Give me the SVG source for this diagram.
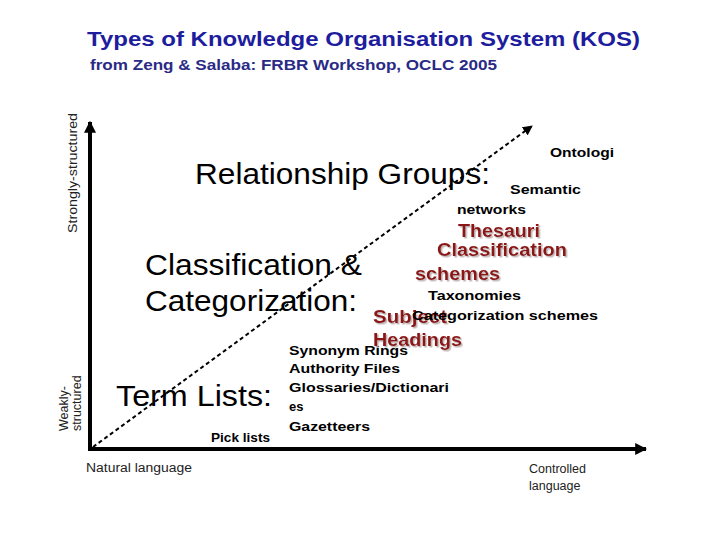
<svg xmlns="http://www.w3.org/2000/svg" width="720" height="540" viewBox="0 0 720 540">
<defs>
<style>
.t{font-family:"Liberation Sans",Arial,sans-serif;}
.title{font-size:21px;font-weight:bold;fill:#1d1d9e;}
.sub{font-size:15px;font-weight:bold;fill:#2a2a86;}
.big{font-size:29px;fill:#000;}
.sm{font-size:13px;font-weight:bold;fill:#000;}
.ax{font-size:12.5px;fill:#222;}
.red{font-size:17.5px;font-weight:bold;fill:#8c1717;filter:url(#sh);}
.axis{stroke:#000;stroke-width:4;fill:none;}
.dash{stroke:#000;stroke-width:2;stroke-dasharray:4 3;fill:none;}
</style>
<marker id="ah" viewBox="0 0 10 10" refX="9" refY="5" markerWidth="3" markerHeight="3" orient="auto"><path d="M0,0 L10,5 L0,10 z" fill="#000"/></marker>
<marker id="ad" viewBox="0 0 10 10" refX="9" refY="5" markerWidth="5" markerHeight="5" orient="auto"><path d="M0,0 L10,5 L0,10 z" fill="#000"/></marker>
<filter id="sh" x="-10%" y="-20%" width="130%" height="150%"><feDropShadow dx="1.5" dy="1.5" stdDeviation="0.6" flood-color="#b0a0a0" flood-opacity="0.8"/></filter>
</defs>
<rect width="720" height="540" fill="#fff"/>
<g id="heading" class="t">
<text class="title" x="87" y="46" textLength="553" lengthAdjust="spacingAndGlyphs">Types of Knowledge Organisation System (KOS)</text>
<text class="sub" x="90" y="70" textLength="407" lengthAdjust="spacingAndGlyphs">from Zeng &amp; Salaba: FRBR Workshop, OCLC 2005</text>
</g>
<g id="connectors">
<path class="axis" d="M90,451 L90,122" marker-end="url(#ah)"/>
<path class="axis" d="M88,449 L646,449" marker-end="url(#ah)"/>
<path class="dash" d="M93,447 L532,126" marker-end="url(#ad)"/>
</g>
<g id="axis-labels" class="t">
<text class="ax" transform="translate(77,233) rotate(-90)" textLength="120" lengthAdjust="spacingAndGlyphs">Strongly-structured</text>
<text class="ax" transform="translate(68,431) rotate(-90)">Weakly-</text>
<text class="ax" transform="translate(81,431) rotate(-90)">structured</text>
<text class="ax" x="86" y="472" textLength="106" lengthAdjust="spacingAndGlyphs">Natural language</text>
<text class="ax" x="529" y="473">Controlled</text>
<text class="ax" x="529" y="490">language</text>
</g>
<g id="relationship-groups" class="t">
<text class="big" x="195" y="184" font-size="31" textLength="295" lengthAdjust="spacingAndGlyphs">Relationship Groups:</text>
<text class="sm" x="550" y="157" textLength="64" lengthAdjust="spacingAndGlyphs">Ontologi</text>
<text class="sm" x="510" y="194" textLength="71" lengthAdjust="spacingAndGlyphs">Semantic</text>
<text class="sm" x="457" y="214" textLength="69" lengthAdjust="spacingAndGlyphs">networks</text>
<text class="red" x="458" y="237" textLength="82" lengthAdjust="spacingAndGlyphs">Thesauri</text>
</g>
<g id="term-lists" class="t">
<text class="big" x="116" y="406" textLength="156" lengthAdjust="spacingAndGlyphs">Term Lists:</text>
<text class="sm" x="211" y="442" textLength="59" lengthAdjust="spacingAndGlyphs">Pick lists</text>
<text class="sm" x="289" y="355" textLength="119" lengthAdjust="spacingAndGlyphs">Synonym Rings</text>
<text class="sm" x="289" y="373" textLength="111" lengthAdjust="spacingAndGlyphs">Authority Files</text>
<text class="sm" x="289" y="392" textLength="160" lengthAdjust="spacingAndGlyphs">Glossaries/Dictionari</text>
<text class="sm" x="289" y="411">es</text>
<text class="sm" x="289" y="431" textLength="81" lengthAdjust="spacingAndGlyphs">Gazetteers</text>
</g>
<g id="subject-headings" class="t">
<text class="red" x="373" y="323" textLength="74" lengthAdjust="spacingAndGlyphs">Subject</text>
<text class="red" x="373" y="346" textLength="89" lengthAdjust="spacingAndGlyphs">Headings</text>
</g>
<g id="classification" class="t">
<text class="big" x="145" y="275" textLength="217" lengthAdjust="spacingAndGlyphs">Classification &amp;</text>
<text class="big" x="145" y="311" textLength="212" lengthAdjust="spacingAndGlyphs">Categorization:</text>
<text class="red" x="437" y="256" textLength="130" lengthAdjust="spacingAndGlyphs">Classification</text>
<text class="red" x="415" y="280" textLength="85" lengthAdjust="spacingAndGlyphs">schemes</text>
<text class="sm" x="428" y="300" font-weight="normal" textLength="93" lengthAdjust="spacingAndGlyphs">Taxonomies</text>
<text class="sm" x="412" y="320" font-weight="normal" textLength="186" lengthAdjust="spacingAndGlyphs">Categorization schemes</text>
</g>
</svg>
